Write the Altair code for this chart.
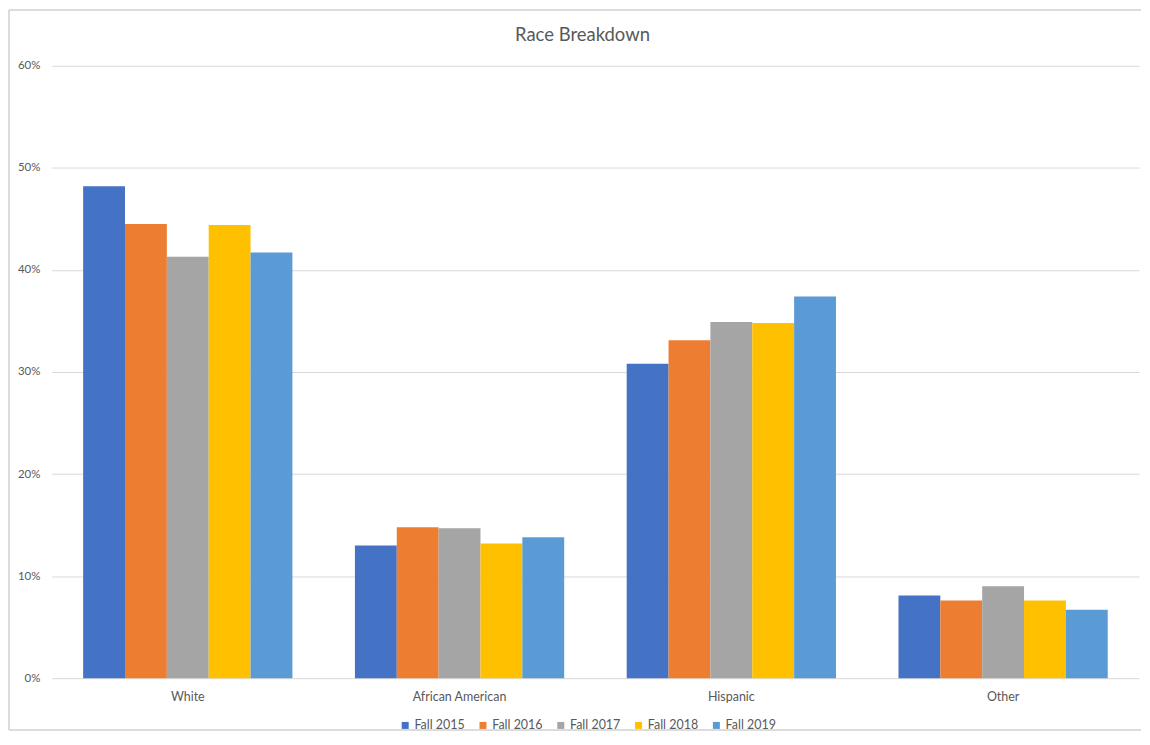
import altair as alt
import pandas as pd

categories = ["White", "African American", "Hispanic", "Other"]
years = ["Fall 2015", "Fall 2016", "Fall 2017", "Fall 2018", "Fall 2019"]
fall_2015 = [0.482, 0.130, 0.308, 0.081]
fall_2016 = [0.445, 0.148, 0.331, 0.076]
fall_2017 = [0.413, 0.147, 0.349, 0.090]
fall_2018 = [0.444, 0.132, 0.348, 0.076]
fall_2019 = [0.417, 0.138, 0.374, 0.067]
colors = ["#4472C4", "#ED7D31", "#A5A5A5", "#FFC000", "#5B9BD5"]
title_text = "Race Breakdown"

series = [fall_2015, fall_2016, fall_2017, fall_2018, fall_2019]
rows = []
for y, vals in zip(years, series):
    for c, v in zip(categories, vals):
        rows.append({"Race": c, "Year": y, "Value": v})
df = pd.DataFrame(rows)

FONT = "Lato"
W, H = 1090, 614

bars = alt.Chart(df).mark_bar().encode(
    x=alt.X("Race:N", sort=categories, title=None,
            scale=alt.Scale(paddingInner=0.23, paddingOuter=0.115),
            axis=alt.Axis(labelAngle=0, ticks=False, domain=False, labelPadding=12,
                          labelFontSize=12.5, labelColor="#595959", labelFont=FONT)),
    xOffset=alt.XOffset("Year:N", sort=years, scale=alt.Scale(paddingInner=0, paddingOuter=0)),
    y=alt.Y("Value:Q", title=None,
            scale=alt.Scale(domain=[0, 0.6]),
            axis=alt.Axis(format=".0%", values=[0, 0.1, 0.2, 0.3, 0.4, 0.5, 0.6],
                          ticks=False, domain=False, labelPadding=12,
                          gridColor="#d9d9d9", labelFontSize=11.5, labelColor="#595959",
                          labelFont=FONT)),
    color=alt.Color("Year:N", sort=years, scale=alt.Scale(domain=years, range=colors),
                    legend=alt.Legend(title=None, orient="none", direction="horizontal",
                                      legendX=348, legendY=655,
                                      symbolType="square", symbolSize=49, symbolStrokeWidth=0,
                                      labelFontSize=12.5, labelColor="#595959", labelFont=FONT,
                                      columnPadding=12, symbolOffset=0,
                                      labelOffset=3)),
)

one = pd.DataFrame({"a": [0]})
BSTYLE = dict(stroke="#d0d0d0", strokeWidth=1.5)
left_edge = alt.Chart(one).mark_rule(**BSTYLE).encode(
    x=alt.value(-43), y=alt.value(-56), y2=alt.value(H + 52))
top_edge = alt.Chart(one).mark_rule(**BSTYLE).encode(
    x=alt.value(-43), x2=alt.value(W + 2), y=alt.value(-56))
bottom_edge = alt.Chart(one).mark_rule(**BSTYLE).encode(
    x=alt.value(-43), x2=alt.value(W + 2), y=alt.value(H + 52))

title = alt.Chart(pd.DataFrame({"t": [title_text]})).mark_text(
    font=FONT, fontSize=18.5, color="#595959", baseline="middle", align="center"
).encode(
    text="t:N", x=alt.value(532), y=alt.value(-31)
)

chart = alt.layer(left_edge, top_edge, bottom_edge, bars, title).properties(
    width=W, height=H,
    autosize=alt.AutoSizeParams(type="none"),
    padding={"left": 44, "top": 57, "right": 3, "bottom": 53},
).configure_view(stroke=None)

chart.save("out.html", embed_options={"renderer": "svg", "actions": False})
